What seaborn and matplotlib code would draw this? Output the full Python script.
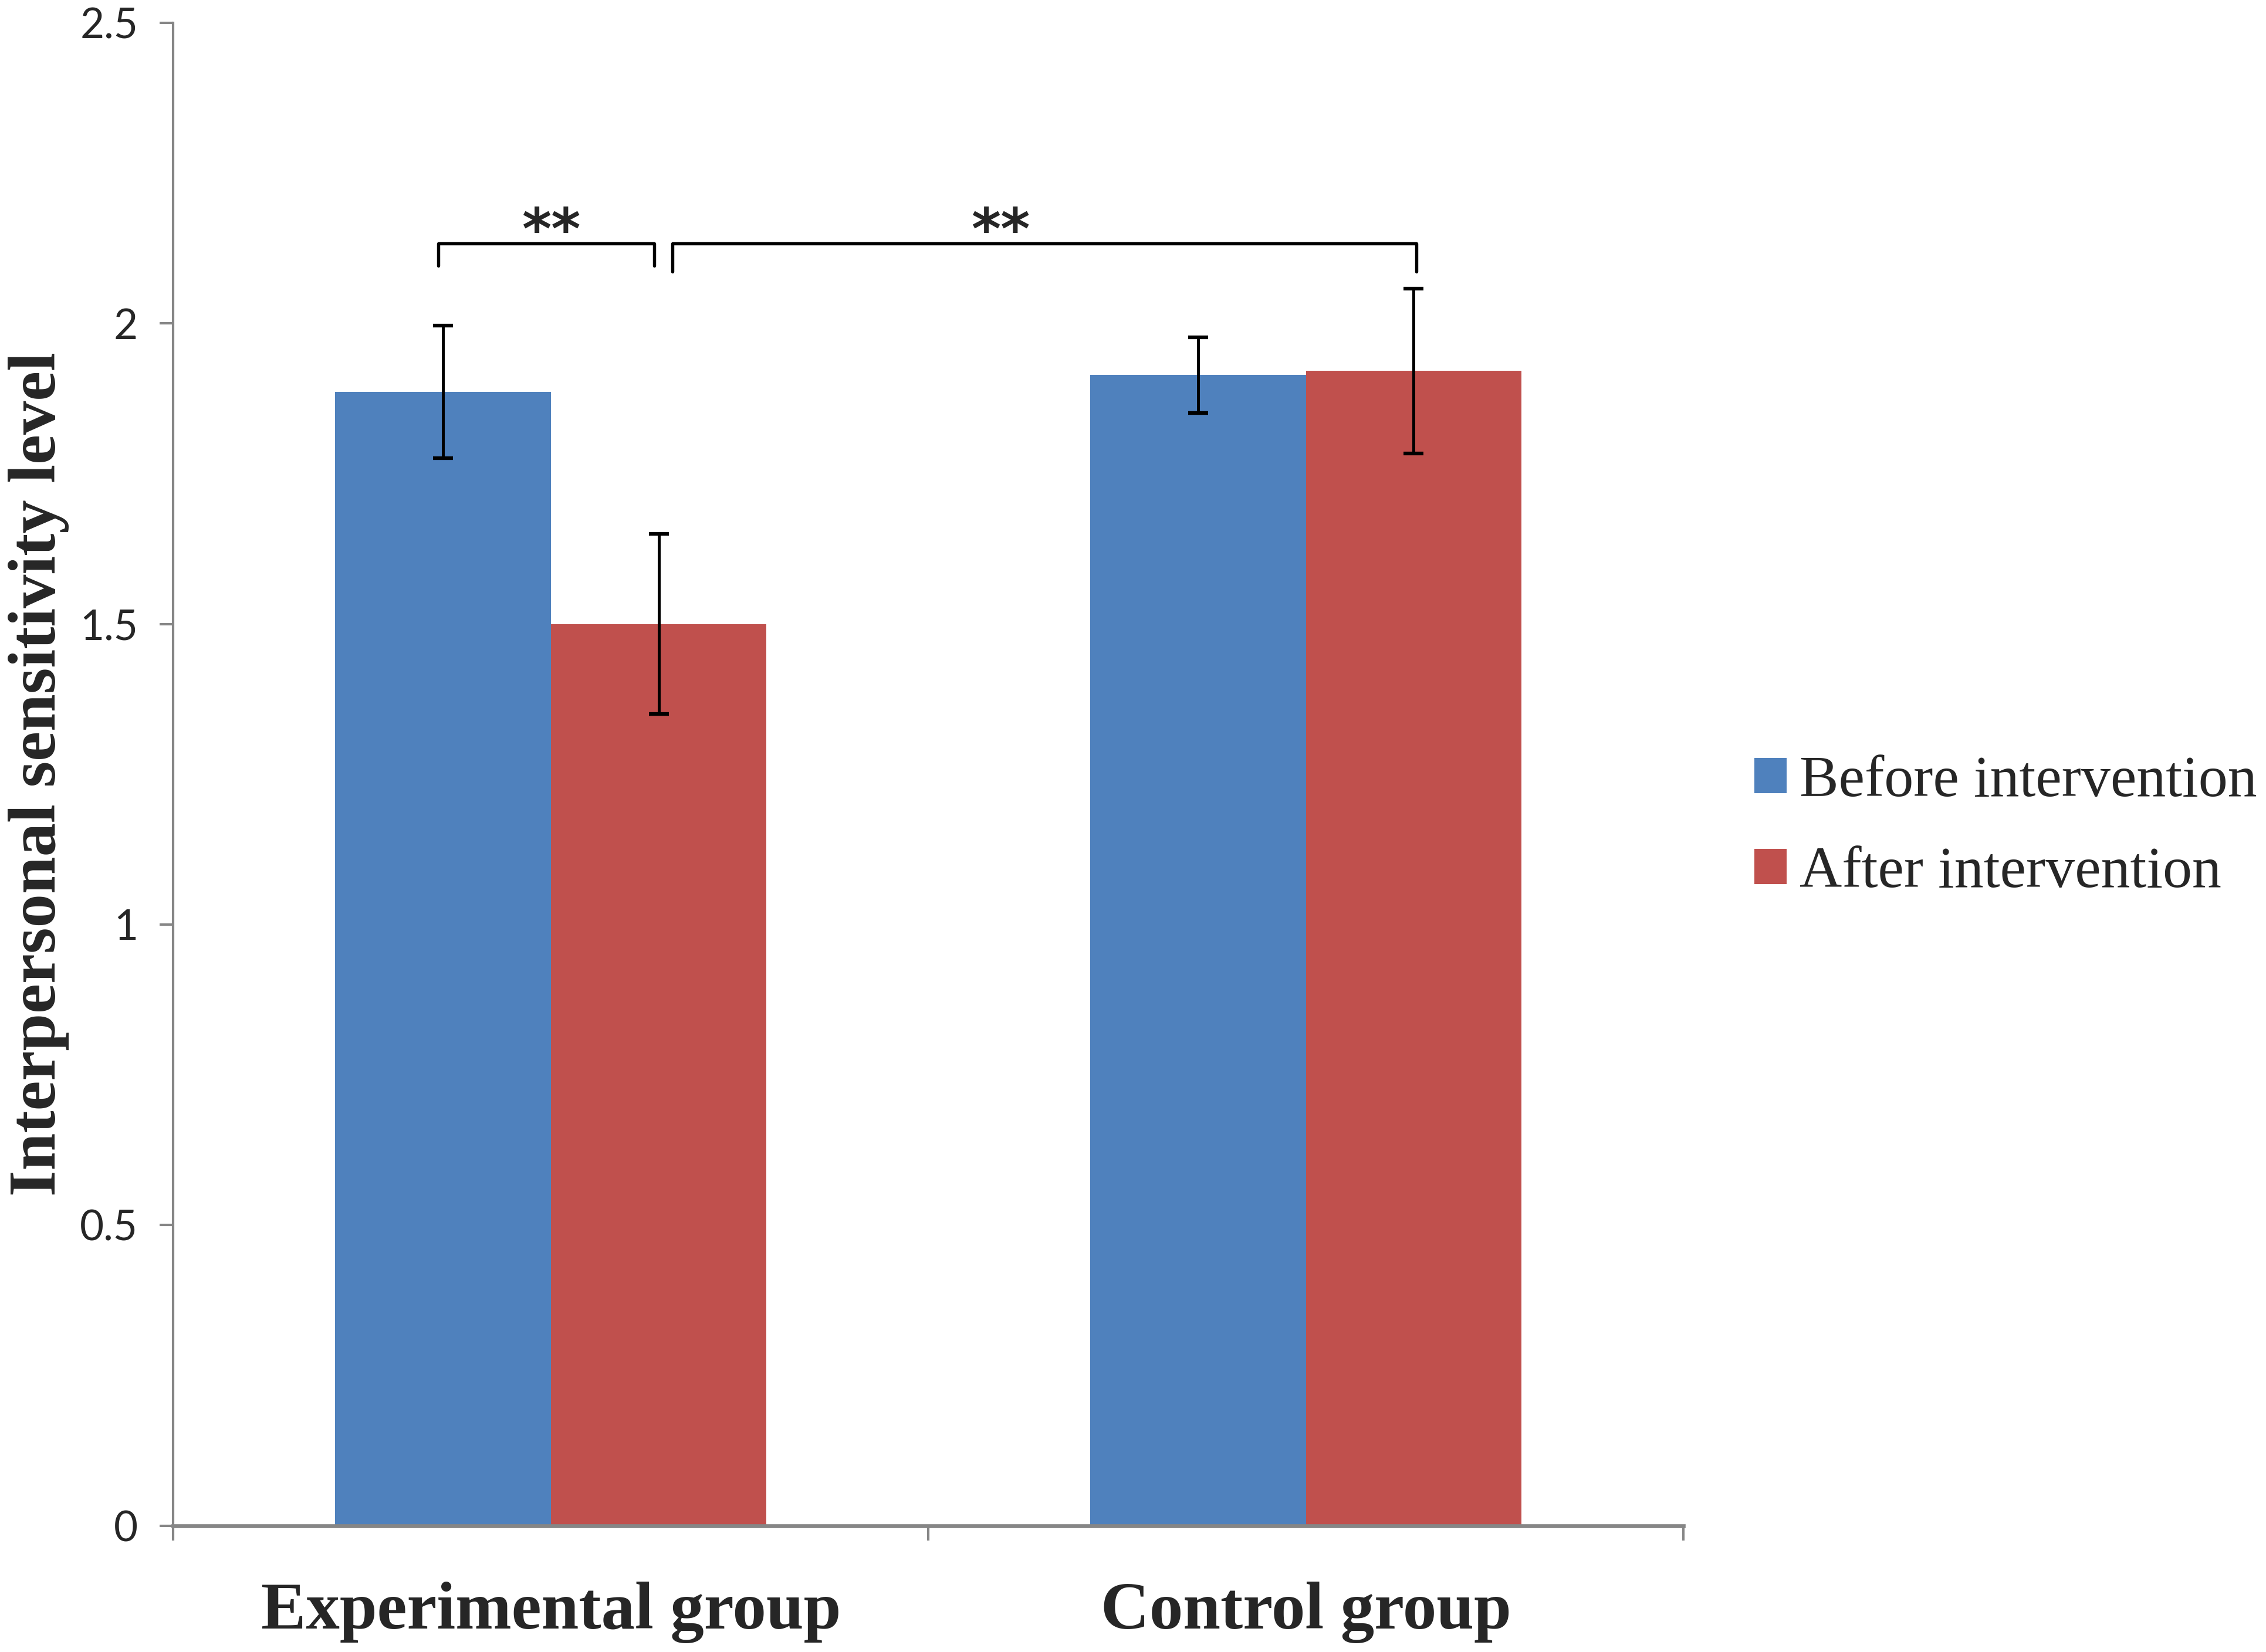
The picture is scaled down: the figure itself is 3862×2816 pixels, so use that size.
import numpy as np
import pandas as pd
import matplotlib
matplotlib.use('Agg')
import matplotlib.pyplot as plt
import seaborn as sns

groups = ['Experimental group', 'Control group']
phases = ['Before intervention', 'After intervention']
before_mean = [1.886, 1.914]
after_mean = [1.500, 1.921]
before_err = [0.110, 0.063]
after_err = [0.150, 0.137]
yticks = [0, 0.5, 1, 1.5, 2, 2.5]
ytick_labels = ['0', '0.5', '1', '1.5', '2', '2.5']

df = pd.DataFrame({
    'group': groups * 2,
    'phase': [phases[0]] * 2 + [phases[1]] * 2,
    'level': before_mean + after_mean,
    'err': before_err + after_err,
})

sns.set_style('ticks')
plt.rcParams['font.family'] = ['Lato', 'DejaVu Sans']

fig = plt.figure(figsize=(3862 / 300, 2816 / 300), dpi=300)
ax = fig.add_axes([0.0765, 0.0765, 0.7429 - 0.0765, 0.9862 - 0.0765])

sns.barplot(data=df, x='group', y='level', hue='phase', order=groups,
            hue_order=phases, palette=['#4F81BD', '#C0504D'],
            width=0.571, gap=0, errorbar=None, saturation=1,
            linewidth=0, ax=ax)

# error bars on the bar centres
for cont, errs in zip(ax.containers, [before_err, after_err]):
    xs = [b.get_x() + b.get_width() / 2 for b in cont]
    hs = [b.get_height() for b in cont]
    ax.errorbar(xs, hs, yerr=errs, fmt='none', ecolor='black',
                elinewidth=1.2, capsize=4, capthick=1.5, zorder=5)

# significance brackets
def bracket(x0, x1, ytop, ybot):
    ax.plot([x0, x0, x1, x1], [ybot, ytop, ytop, ybot], color='black',
            lw=1.3, solid_joinstyle='round', solid_capstyle='round',
            clip_on=False, zorder=6)

bracket(-0.149, 0.137, 2.133, 2.096)
bracket(0.161, 1.146, 2.133, 2.086)
ax.text(0.0, 2.105, '**', ha='center', va='bottom', fontsize=23,
        fontweight='bold', family='DejaVu Sans')
ax.text(0.596, 2.105, '**', ha='center', va='bottom', fontsize=23,
        fontweight='bold', family='DejaVu Sans')

ax.set_xlim(-0.5, 1.5)
ax.set_ylim(0, 2.5)
ax.set_yticks(yticks)
ax.set_yticklabels(ytick_labels)
ax.set_xticks([0, 1])
ax.set_xticklabels(groups, family='Liberation Serif', fontweight='bold',
                   fontsize=27.5)
ax.set_xticks([-0.5, 0.5, 1.5], minor=True)
ax.tick_params(axis='x', which='major', length=0, pad=23)
ax.tick_params(axis='x', which='minor', length=6, width=1.0,
               color='#868686', direction='out')
ax.tick_params(axis='y', length=5.5, width=1.0, color='#868686',
               direction='out', pad=9, labelsize=17)

for side in ['top', 'right']:
    ax.spines[side].set_visible(False)
for side in ['left', 'bottom']:
    ax.spines[side].set_color('#868686')
    ax.spines[side].set_linewidth(1.0)
ax.spines['bottom'].set_linewidth(1.6)

ax.set_xlabel('')
ax.set_ylabel('Interpersonal sensitivity level', family='Liberation Serif',
              fontweight='bold', fontsize=27.5)
ax.yaxis.set_label_coords(-0.069, 0.5)

handles, labels = ax.get_legend_handles_labels()
ax.legend(handles, labels, loc='center left', bbox_to_anchor=(1.047, 0.4645),
          frameon=False, borderaxespad=0, borderpad=0,
          handlelength=0.55, handleheight=0.55, handletextpad=0.22,
          labelspacing=0.65, prop={'family': 'Liberation Serif', 'size': 24})

fig.savefig('out.png', dpi=300)
